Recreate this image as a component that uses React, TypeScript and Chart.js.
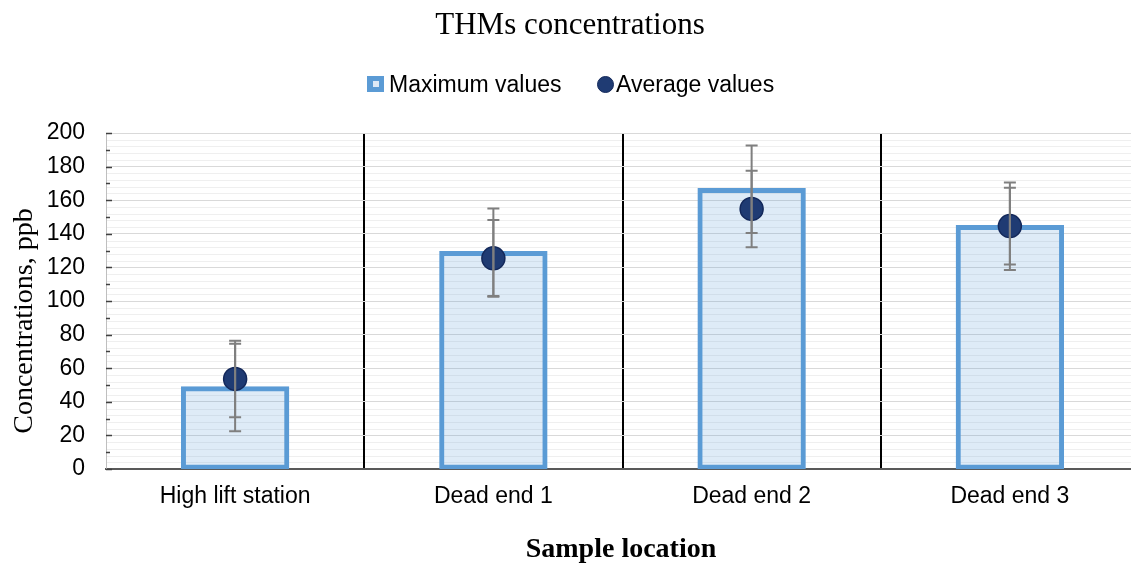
import React, { useEffect, useRef } from "react";
import { Chart, registerables } from "chart.js";

Chart.register(...registerables);

const categories = ["High lift station", "Dead end 1", "Dead end 2", "Dead end 3"];
const maxValues = [48.5, 129, 166.5, 144.5];
const avgValues = [53.6, 125.4, 154.8, 144.6];
const maxErrors = [26, 26, 26, 26];
const avgErrors = [22.8, 22.8, 22.8, 22.8];
const yMin = 0;
const yMax = 200;
const yMajorStep = 20;
const yMinorTickStep = 10;
const yMinorGridStep = 4;
const chartTitle = "THMs concentrations";
const yAxisTitle = "Concentrations, ppb";
const xAxisTitle = "Sample location";
const legendLabels = ["Maximum values", "Average values"];

const SANS = "'Liberation Sans', Arial, sans-serif";
const SERIF = "'Liberation Serif', 'Times New Roman', serif";
const BAR_BORDER = "#5B9BD5";
const BAR_FILL = "rgba(91,155,213,0.2)";
const DOT_FILL = "#1F3B73";
const DOT_BORDER = "#13285A";
const ERR_COLOR = "#7F7F7F";

const decorPlugin = {
  id: "decor",
  beforeDraw(chart: any) {
    const { ctx, chartArea } = chart;
    const y = chart.scales.y;
    ctx.save();
    ctx.strokeStyle = "#EFEFEF";
    ctx.lineWidth = 1;
    for (let v = yMin; v <= yMax; v += yMinorGridStep) {
      if (v % yMajorStep === 0) continue;
      const py = Math.round(y.getPixelForValue(v)) + 0.5;
      ctx.beginPath();
      ctx.moveTo(chartArea.left, py);
      ctx.lineTo(chartArea.right, py);
      ctx.stroke();
    }
    ctx.restore();
  },
  afterDatasetsDraw(chart: any) {
    const { ctx, chartArea } = chart;
    const x = chart.scales.x;
    const y = chart.scales.y;
    ctx.save();
    ctx.strokeStyle = "#404040";
    ctx.lineWidth = 1.5;
    for (let v = yMin; v <= yMax; v += yMinorTickStep) {
      const py = Math.round(y.getPixelForValue(v)) + 0.5;
      const len = v % yMajorStep === 0 ? 6 : 4;
      ctx.beginPath();
      ctx.moveTo(chartArea.left, py);
      ctx.lineTo(chartArea.left + len, py);
      ctx.stroke();
    }
    ctx.strokeStyle = ERR_COLOR;
    ctx.lineWidth = 2;
    const drawErr = (cx: number, val: number, err: number) => {
      const top = y.getPixelForValue(val + err);
      const bot = y.getPixelForValue(val - err);
      ctx.beginPath();
      ctx.moveTo(cx, top);
      ctx.lineTo(cx, bot);
      ctx.moveTo(cx - 6, top);
      ctx.lineTo(cx + 6, top);
      ctx.moveTo(cx - 6, bot);
      ctx.lineTo(cx + 6, bot);
      ctx.stroke();
    };
    categories.forEach((_, i) => {
      const cx = x.getPixelForValue(i);
      drawErr(cx, maxValues[i], maxErrors[i]);
      drawErr(cx, avgValues[i], avgErrors[i]);
    });
    ctx.restore();
  },
  afterDraw(chart: any) {
    const { ctx } = chart;
    ctx.save();
    ctx.fillStyle = "#000";
    ctx.font = `31px ${SERIF}`;
    ctx.textAlign = "center";
    ctx.textBaseline = "alphabetic";
    ctx.fillText(chartTitle, 570, 34);
    ctx.fillStyle = BAR_BORDER;
    ctx.fillRect(367, 76, 17, 16);
    ctx.fillStyle = "#DDE9F6";
    ctx.fillRect(373, 81, 6, 6);
    ctx.beginPath();
    ctx.arc(605.5, 84.5, 8, 0, Math.PI * 2);
    ctx.fillStyle = DOT_FILL;
    ctx.fill();
    ctx.strokeStyle = DOT_BORDER;
    ctx.lineWidth = 1;
    ctx.stroke();
    ctx.fillStyle = "#000";
    ctx.font = `23px ${SANS}`;
    ctx.textAlign = "left";
    ctx.fillText(legendLabels[0], 389, 91.5);
    ctx.fillText(legendLabels[1], 616, 91.5);
    ctx.font = `bold 28px ${SERIF}`;
    ctx.textAlign = "center";
    ctx.fillText(xAxisTitle, 621, 557);
    ctx.translate(32, 321);
    ctx.rotate(-Math.PI / 2);
    ctx.font = `28px ${SERIF}`;
    ctx.fillText(yAxisTitle, 0, 0);
    ctx.restore();
  },
};

export default function App() {
  const ref = useRef<HTMLCanvasElement>(null);
  useEffect(() => {
    if (!ref.current) return;
    const chart = new Chart(ref.current, {
      type: "bar",
      data: {
        labels: categories,
        datasets: [
          {
            type: "line" as const,
            label: legendLabels[1],
            data: avgValues,
            showLine: false,
            pointRadius: 11.5,
            pointHoverRadius: 11.5,
            pointBackgroundColor: DOT_FILL,
            pointBorderColor: DOT_BORDER,
            pointBorderWidth: 1.5,
            order: 0,
          },
          {
            type: "bar" as const,
            label: legendLabels[0],
            data: maxValues,
            backgroundColor: BAR_FILL,
            borderColor: BAR_BORDER,
            borderWidth: 2.5,
            borderSkipped: false,
            inflateAmount: 1.25,
            barPercentage: 0.41,
            categoryPercentage: 1,
            order: 1,
          },
        ],
      },
      options: {
        responsive: false,
        animation: false,
        layout: { padding: { top: 133, left: 0, right: 0, bottom: 0 } },
        plugins: {
          legend: { display: false },
          title: { display: false },
          tooltip: { enabled: false },
        },
        scales: {
          x: {
            offset: true,
            grid: {
              offset: true,
              drawTicks: false,
              color: (c: any) => (c.index === 0 ? "rgba(0,0,0,0)" : "#000"),
              lineWidth: 2,
            },
            border: { display: true, color: "#595959", width: 2 },
            ticks: { font: { size: 23, family: SANS }, color: "#000", padding: 14 },
            afterFit: (s: any) => {
              s.height = 95;
            },
          },
          y: {
            min: yMin,
            max: yMax,
            ticks: {
              stepSize: yMajorStep,
              font: { size: 23, family: SANS },
              color: "#000",
              padding: 21,
            },
            grid: { color: "#D9D9D9", lineWidth: 1, drawTicks: false },
            border: { display: true, color: "#BFBFBF", width: 1 },
            afterFit: (s: any) => {
              s.width = 106;
            },
          },
        },
      },
      plugins: [decorPlugin],
    });
    return () => chart.destroy();
  }, []);
  return (
    <div
      style={{
        position: "fixed",
        left: 0,
        top: 0,
        width: 1131,
        height: 564,
        overflow: "hidden",
        background: "#fff",
      }}
    >
      <canvas ref={ref} width={1152} height={564} style={{ display: "block" }} />
    </div>
  );
}
